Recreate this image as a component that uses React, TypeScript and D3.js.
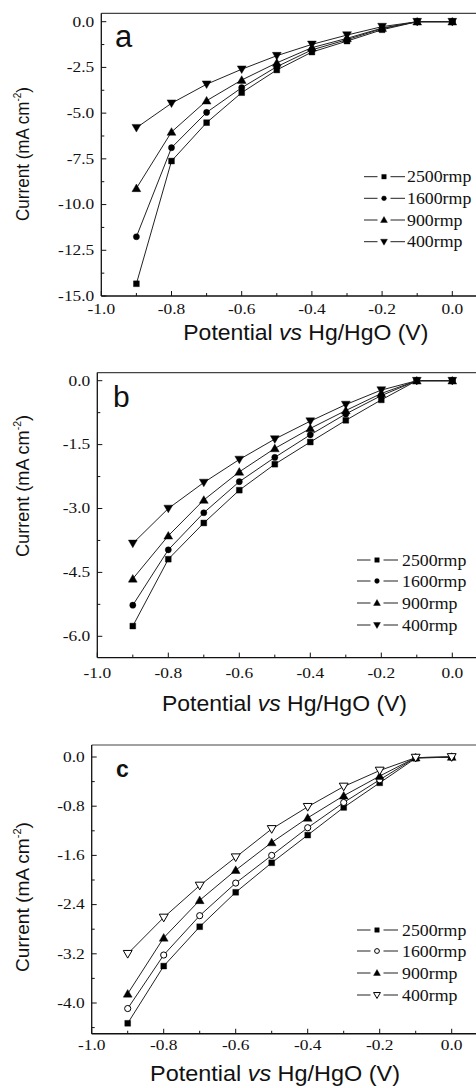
import React from "react";
import * as d3 from "d3";

// potentials (V vs Hg/HgO), shared by every panel
const potentials = [-0.9, -0.8, -0.7, -0.6, -0.5, -0.4, -0.3, -0.2, -0.1, 0.0];
const speeds = ["2500rmp", "1600rmp", "900rmp", "400rmp"];
const xTicks = [-1.0, -0.8, -0.6, -0.4, -0.2, 0.0];

// panel a
const currentA2500 = [-14.33, -7.62, -5.52, -3.88, -2.64, -1.66, -1.06, -0.44, 0, 0];
const currentA1600 = [-11.76, -6.89, -4.96, -3.61, -2.46, -1.54, -0.98, -0.38, 0, 0];
const currentA900 = [-9.11, -6.03, -4.32, -3.19, -2.25, -1.42, -0.91, -0.35, 0, 0];
const currentA400 = [-5.8, -4.46, -3.42, -2.6, -1.86, -1.24, -0.73, -0.27, 0, 0];
const yTicksA = [0, -2.5, -5.0, -7.5, -10.0, -12.5, -15.0];

// panel b
const currentB2500 = [-5.76, -4.19, -3.34, -2.57, -1.96, -1.44, -0.93, -0.45, 0, 0];
const currentB1600 = [-5.27, -3.97, -3.1, -2.37, -1.8, -1.27, -0.78, -0.35, 0, 0];
const currentB900 = [-4.65, -3.64, -2.8, -2.14, -1.59, -1.12, -0.7, -0.3, 0, 0];
const currentB400 = [-3.82, -3.0, -2.39, -1.85, -1.37, -0.95, -0.56, -0.22, 0, 0];
const yTicksB = [0, -1.5, -3.0, -4.5, -6.0];

// panel c
const currentC2500 = [-4.33, -3.4, -2.76, -2.2, -1.72, -1.27, -0.82, -0.42, -0.02, 0];
const currentC1600 = [-4.09, -3.22, -2.58, -2.05, -1.6, -1.15, -0.74, -0.37, -0.01, 0];
const currentC900 = [-3.85, -2.94, -2.33, -1.84, -1.39, -0.99, -0.63, -0.31, -0.01, 0];
const currentC400 = [-3.2, -2.61, -2.09, -1.63, -1.17, -0.81, -0.48, -0.22, -0.01, 0];
const yTicksC = [0, -0.8, -1.6, -2.4, -3.2, -4.0];

const W = 476;
const H = 1088;
const SANS = "'Liberation Sans', Arial, sans-serif";
const SERIF = "'Liberation Serif', 'Times New Roman', serif";

type MarkerKind = "square" | "circle" | "up" | "down";

const symbolFor = (kind: MarkerKind, size: number) => {
  const type =
    kind === "square" ? d3.symbolSquare : kind === "circle" ? d3.symbolCircle : d3.symbolTriangle;
  return d3.symbol().type(type).size(size)() as string;
};

const Marker = ({ kind, open, x, y, scale = 1 }: { kind: MarkerKind; open: boolean; x: number; y: number; scale?: number }) => {
  const sizes = { square: 34, circle: 30, up: 34, down: 34 };
  const rot = kind === "down" ? " rotate(180)" : "";
  const dy = kind === "up" ? 0.8 : kind === "down" ? -0.8 : 0;
  return (
    <path
      d={symbolFor(kind, sizes[kind] * scale)}
      transform={`translate(${x},${y + dy * scale})${rot}`}
      fill={open ? "#fff" : "#000"}
      stroke="#000"
      strokeWidth={open ? 1 : 0.4}
    />
  );
};

type PanelProps = {
  letter: string;
  letterStyle: { x: number; y: number; size: number; weight: number };
  xRange: [number, number];
  yRange: [number, number];
  yLow: number;
  frameTop: number;
  frameBottom: number;
  yTicks: number[];
  series: number[][];
  kinds: MarkerKind[];
  open: boolean[];
  legend: { lineX0: number; lineX1: number; markX: number; textX: number; rows: number[] };
  xLabelGap: number;
  xTitle: { cx: number; y: number; len: number };
  yTitle: { x: number; cy: number; len: number };
};

const Panel = (p: PanelProps) => {
  const x = d3.scaleLinear().domain([-1, 0]).range(p.xRange);
  const y = d3.scaleLinear().domain([0, p.yLow]).range(p.yRange);
  const left = x(-1);
  const top = y(p.frameTop);
  const bottom = y(p.frameBottom);
  const step = p.yTicks[0] - p.yTicks[1];
  const yMinor = d3.range(0, p.frameBottom - 1e-9, -step / 2).filter((v) => v > p.frameBottom + 1e-9 || Math.abs(v - p.frameBottom) < 1e-9);
  const xMinor = d3.range(-1, 0.11, 0.1);
  const line = d3
    .line<[number, number]>()
    .x((d) => x(d[0]))
    .y((d) => y(d[1]));
  const lg = p.legend;

  return (
    <g>
      {/* frame */}
      <line x1={left} x2={W} y1={top} y2={top} stroke="#444" strokeWidth={1.2} />
      <line x1={left} x2={left} y1={top} y2={bottom} stroke="#111" strokeWidth={1.3} />
      <line x1={left} x2={W} y1={bottom} y2={bottom} stroke="#111" strokeWidth={1.3} />

      {/* x ticks, inward */}
      {xMinor.map((v, i) => (
        <line key={"xm" + i} x1={x(v)} x2={x(v)} y1={bottom} y2={bottom - (i % 2 === 0 ? 5 : 3)} stroke="#111" strokeWidth={1} />
      ))}
      {xTicks.map((v) => (
        <text
          key={"xl" + v}
          transform={`translate(${x(v)},${bottom + p.xLabelGap}) scale(1.2,1)`}
          textAnchor="middle"
          fontFamily={SERIF}
          fontSize={14.5}
          fill="#111"
        >
          {v.toFixed(1)}
        </text>
      ))}

      {/* y ticks, inward */}
      {yMinor.map((v, i) => (
        <line key={"ym" + i} x1={left} x2={left + (i % 2 === 0 ? 5 : 3)} y1={y(v)} y2={y(v)} stroke="#111" strokeWidth={1} />
      ))}
      {p.yTicks.map((v) => (
        <text
          key={"yl" + v}
          transform={`translate(${left - 7},${y(v) + 4.8}) scale(1.2,1)`}
          textAnchor="end"
          fontFamily={SERIF}
          fontSize={14.5}
          fill="#111"
        >
          {v.toFixed(1)}
        </text>
      ))}

      {/* series */}
      {p.series.map((vals, si) => {
        const pts = potentials.map((pv, i) => [pv, vals[i]] as [number, number]);
        return (
          <g key={"s" + si}>
            <path d={line(pts) as string} fill="none" stroke="#222" strokeWidth={1} />
            {pts.map((d, i) => (
              <Marker key={i} kind={p.kinds[si]} open={p.open[si]} x={x(d[0])} y={y(d[1])} />
            ))}
          </g>
        );
      })}

      {/* legend */}
      {speeds.map((s, i) => (
        <g key={"lg" + s}>
          <line x1={lg.lineX0} x2={lg.markX - 6.5} y1={lg.rows[i]} y2={lg.rows[i]} stroke="#222" strokeWidth={1} />
          <line x1={lg.markX + 6.5} x2={lg.lineX1} y1={lg.rows[i]} y2={lg.rows[i]} stroke="#222" strokeWidth={1} />
          <Marker kind={p.kinds[i]} open={p.open[i]} x={lg.markX} y={lg.rows[i]} scale={0.6} />
          <text
            transform={`translate(${lg.textX},${lg.rows[i] + 5.6}) scale(1.08,1)`}
            fontFamily={SERIF}
            fontSize={16.5}
            fill="#111"
          >
            {s}
          </text>
        </g>
      ))}

      {/* letter */}
      <text x={p.letterStyle.x} y={p.letterStyle.y} fontFamily={SANS} fontSize={p.letterStyle.size} fontWeight={p.letterStyle.weight} fill="#111">
        {p.letter}
      </text>

      {/* axis titles */}
      <text
        x={p.xTitle.cx - p.xTitle.len / 2}
        y={p.xTitle.y}
        textLength={p.xTitle.len}
        lengthAdjust="spacingAndGlyphs"
        fontFamily={SANS}
        fontSize={22}
        fill="#111"
      >
        Potential <tspan fontStyle="italic">vs</tspan> Hg/HgO (V)
      </text>
      <text
        transform={`translate(${p.yTitle.x},${p.yTitle.cy + p.yTitle.len / 2}) rotate(-90)`}
        textLength={p.yTitle.len}
        lengthAdjust="spacingAndGlyphs"
        fontFamily={SANS}
        fontSize={19}
        fill="#111"
      >
        Current (mA cm<tspan dy={-8} fontSize={11}>-2</tspan>
        <tspan dy={8}>)</tspan>
      </text>
    </g>
  );
};

export default function App() {
  return (
    <svg width={W} height={H} style={{ position: "absolute", left: 0, top: 0, background: "#fff" }}>
      <rect width={W} height={H} fill="#fff" />
      <Panel
        letter="a"
        letterStyle={{ x: 115, y: 47, size: 31, weight: 400 }}
        xRange={[101.3, 452.3]}
        yRange={[21.7, 296]}
        yLow={-15}
        frameTop={0.46}
        frameBottom={-15}
        yTicks={yTicksA}
        series={[currentA2500, currentA1600, currentA900, currentA400]}
        kinds={["square", "circle", "up", "down"]}
        open={[false, false, false, false]}
        legend={{ lineX0: 364, lineX1: 405, markX: 384, textX: 407, rows: [176.7, 198.3, 220, 241.7] }}
        xLabelGap={18}
        xTitle={{ cx: 305.8, y: 340, len: 245 }}
        yTitle={{ x: 29, cy: 154, len: 134 }}
      />
      <Panel
        letter="b"
        letterStyle={{ x: 113, y: 406.5, size: 30, weight: 400 }}
        xRange={[97.3, 452.3]}
        yRange={[380.7, 636.3]}
        yLow={-6}
        frameTop={0.19}
        frameBottom={-6.5}
        yTicks={yTicksB}
        series={[currentB2500, currentB1600, currentB900, currentB400]}
        kinds={["square", "circle", "up", "down"]}
        open={[false, false, false, false]}
        legend={{ lineX0: 357, lineX1: 398, markX: 377, textX: 402, rows: [560, 581, 603, 625] }}
        xLabelGap={20}
        xTitle={{ cx: 284.5, y: 710.5, len: 245 }}
        yTitle={{ x: 29, cy: 486, len: 142 }}
      />
      <Panel
        letter="c"
        letterStyle={{ x: 116, y: 777, size: 23, weight: 700 }}
        xRange={[91.7, 451.7]}
        yRange={[757, 1003]}
        yLow={-4}
        frameTop={0.195}
        frameBottom={-4.5}
        yTicks={yTicksC}
        series={[currentC2500, currentC1600, currentC900, currentC400]}
        kinds={["square", "circle", "up", "down"]}
        open={[false, true, false, true]}
        legend={{ lineX0: 357, lineX1: 398, markX: 377, textX: 402, rows: [930, 951, 973, 995] }}
        xLabelGap={16}
        xTitle={{ cx: 275, y: 1081, len: 250 }}
        yTitle={{ x: 29, cy: 897, len: 150 }}
      />
    </svg>
  );
}
